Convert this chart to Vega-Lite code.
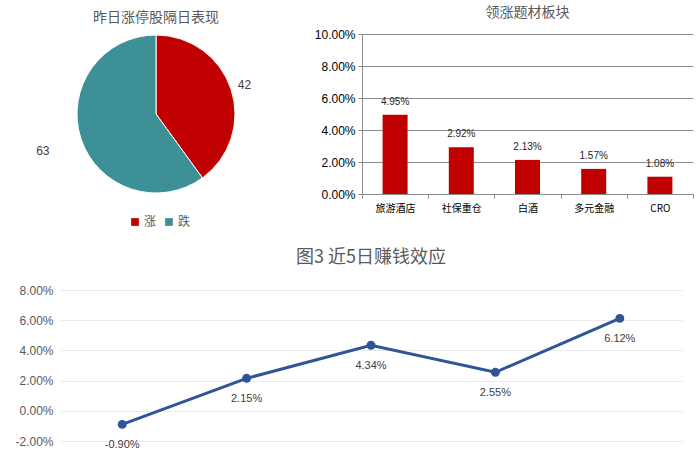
{
  "$schema": "https://vega.github.io/schema/vega-lite/v6.json",
  "background": "white",
  "padding": {"left": 0, "top": 6, "right": 0, "bottom": 0},
  "config": {
    "font": "Noto Sans CJK SC",
    "view": {"stroke": null},
    "axisQuantitative": {"labelFont": "Liberation Sans"},
    "locale": {"number": {"decimal": ".", "thousands": ",", "grouping": [3], "currency": ["$", ""], "minus": "-"}}
  },
  "datasets": {
    "pie": [
      {"dir": "涨", "count": 42},
      {"dir": "跌", "count": 63}
    ],
    "bars": [
      {"sector": "旅游酒店", "pct": 0.0495},
      {"sector": "社保重仓", "pct": 0.0292},
      {"sector": "白酒", "pct": 0.0213},
      {"sector": "多元金融", "pct": 0.0157},
      {"sector": "CRO", "pct": 0.0108}
    ],
    "days": [
      {"day": 1, "pct": -0.009},
      {"day": 2, "pct": 0.0215},
      {"day": 3, "pct": 0.0434},
      {"day": 4, "pct": 0.0255},
      {"day": 5, "pct": 0.0612}
    ]
  },
  "spacing": 21,
  "resolve": {"scale": {"color": "independent"}, "legend": {"color": "independent"}},
  "vconcat": [
    {
      "spacing": 62,
      "resolve": {"scale": {"color": "independent"}, "legend": {"color": "independent"}},
      "hconcat": [
        {
          "title": {"text": "昨日涨停股隔日表现", "fontSize": 14, "fontWeight": "normal", "color": "#595959", "offset": 8, "frame": "group"},
          "width": 192,
          "height": 160,
          "data": {"name": "pie"},
          "encoding": {
            "theta": {"field": "count", "type": "quantitative", "stack": true},
            "color": {
              "field": "dir",
              "type": "nominal",
              "sort": ["涨", "跌"],
              "scale": {"domain": ["涨", "跌"], "range": ["#C00000", "#3D9096"]},
              "legend": {
                "orient": "none",
                "legendX": 69,
                "legendY": 182,
                "direction": "horizontal",
                "title": null,
                "symbolType": "square",
                "symbolSize": 60,
                "symbolStrokeWidth": 0,
                "labelFontSize": 12,
                "labelColor": "#595959",
                "columnPadding": 6,
                "labelOffset": 3
              }
            }
          },
          "layer": [
            {"mark": {"type": "arc", "outerRadius": 79, "stroke": "#ffffff", "strokeWidth": 1}},
            {
              "mark": {
                "type": "text",
                "radius": {"expr": "datum.dir === '涨' ? 93 : 119"},
                "fontSize": 12,
                "font": "Liberation Sans"
              },
              "encoding": {
                "text": {"field": "count", "type": "quantitative"},
                "color": {"value": "#404040"}
              }
            }
          ]
        },
        {
          "title": {"text": "领涨题材板块", "fontSize": 14, "fontWeight": "normal", "color": "#595959", "offset": 8},
          "width": 331,
          "height": 160,
          "data": {"name": "bars"},
          "encoding": {
            "x": {
              "field": "sector",
              "type": "nominal",
              "sort": null,
              "title": null,
              "scale": {"paddingInner": 0, "paddingOuter": 0},
              "axis": {
                "labelAngle": 0,
                "labelFontSize": 10,
                "labelColor": "#000000",
                "labelPadding": 5,
                "domainColor": "#8c8c8c",
                "tickColor": "#8c8c8c",
                "tickSize": 4,
                "tickBand": "extent"
              }
            },
            "y": {
              "field": "pct",
              "type": "quantitative",
              "title": null,
              "scale": {"domain": [0, 0.1]},
              "axis": {
                "format": ".2%",
                "values": [0, 0.02, 0.04, 0.06, 0.08, 0.1],
                "labelFontSize": 12,
                "labelColor": "#000000",
                "labelPadding": 3,
                "gridColor": "#8c8c8c",
                "domainColor": "#8c8c8c",
                "tickColor": "#8c8c8c",
                "tickSize": 4,
                "minExtent": 48
              }
            }
          },
          "layer": [
            {"mark": {"type": "bar", "size": 25, "color": "#C00000"}},
            {
              "mark": {"type": "text", "baseline": "bottom", "dy": -8, "fontSize": 10, "font": "Liberation Sans", "color": "#262626"},
              "encoding": {"text": {"field": "pct", "type": "quantitative", "format": ".2%"}}
            }
          ]
        }
      ]
    },
    {
      "title": {"text": "图3 近5日赚钱效应", "fontSize": 18, "fontWeight": "normal", "color": "#595959", "offset": 17},
      "width": 622,
      "height": 151,
      "data": {"name": "days"},
      "encoding": {
        "x": {"field": "day", "type": "ordinal", "scale": {"type": "point", "padding": 0.5}, "axis": null},
        "y": {
          "field": "pct",
          "type": "quantitative",
          "scale": {"domain": [-0.02, 0.08]},
          "axis": {
            "title": null,
            "format": ".2%",
            "values": [-0.02, 0, 0.02, 0.04, 0.06, 0.08],
            "domain": false,
            "ticks": false,
            "labelPadding": 7,
            "minExtent": 60,
            "labelFontSize": 12,
            "labelColor": "#595959",
            "gridColor": "#ebebeb"
          }
        }
      },
      "layer": [
        {
          "mark": {
            "type": "line",
            "color": "#2F5597",
            "strokeWidth": 3,
            "point": {"filled": true, "size": 80, "color": "#2F5597"}
          }
        },
        {
          "mark": {"type": "text", "dy": 21, "fontSize": 11, "font": "Liberation Sans", "color": "#404040"},
          "encoding": {"text": {"field": "pct", "type": "quantitative", "format": ".2%"}}
        }
      ]
    }
  ]
}
